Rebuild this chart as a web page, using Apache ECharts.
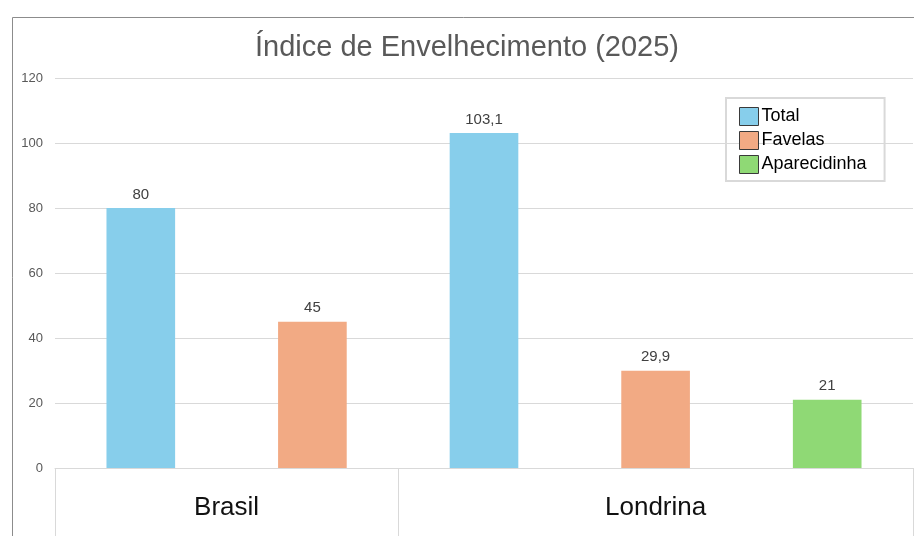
<!DOCTYPE html>
<html>
<head>
<meta charset="utf-8">
<script src="https://cdn.jsdelivr.net/npm/echarts@6/dist/echarts.min.js"></script>
<style>
  html, body { margin: 0; padding: 0; background: #fff; }
  #chart { width: 914px; height: 536px; }
</style>
</head>
<body>
<div id="chart"></div>
<script>
// dados
const groups = ['Brasil', 'Londrina'];
const seriesNames = ['Total', 'Favelas', 'Aparecidinha'];
const total = [80, 103.1];
const favelas = [45, 29.9];
const aparecidinha = [null, 21];
const yTicks = [0, 20, 40, 60, 80, 100, 120];

const colors = ['#87ceeb', '#f2aa84', '#8fd975'];
const values = [total, favelas, aparecidinha];

// cada barra tem seu proprio slot; os grupos ocupam tantos slots quantas barras tiverem
let slots = [];
let groupStart = [];
let groupSize = [];
groups.forEach((g, gi) => {
  groupStart.push(slots.length);
  values.forEach((arr, si) => {
    if (arr[gi] != null) slots.push({ group: gi, series: si, value: arr[gi] });
  });
  groupSize.push(slots.length - groupStart[gi]);
});

const seriesData = values.map((arr, si) =>
  slots.map(s => (s.series === si ? s.value : '-'))
);

// separadores e posicao dos nomes dos grupos no eixo de baixo
const dividers = [0];
const groupCenters = [];
groups.forEach((g, gi) => {
  groupCenters.push(groupStart[gi] + groupSize[gi] / 2);
  dividers.push(groupStart[gi] + groupSize[gi]);
});

const fontFamily = '"Liberation Sans", Arial, sans-serif';
const chart = echarts.init(document.getElementById('chart'));

const options = {
  animation: false,
  textStyle: { fontFamily: fontFamily },
  title: {
    text: 'Índice de Envelhecimento (2025)',
    left: 255,
    top: 33,
    padding: 0,
    textStyle: { fontSize: 29, fontWeight: 'normal', color: '#595959', fontFamily: fontFamily }
  },
  graphic: [{
    type: 'rect',
    shape: { x: 12.5, y: 17.5, width: 1000, height: 600 },
    style: { fill: 'none', stroke: '#8c8c8c', lineWidth: 1 },
    silent: true
  }],
  legend: {
    orient: 'vertical',
    left: 726,
    top: 98,
    padding: [9, 18, 7, 13],
    itemGap: 5,
    itemWidth: 19,
    itemHeight: 18,
    icon: 'rect',
    borderColor: '#d9d9d9',
    borderWidth: 2,
    itemStyle: { borderColor: '#3a3a3a', borderWidth: 1 },
    textStyle: { fontSize: 18, lineHeight: 18, color: '#000', fontFamily: fontFamily, padding: [0, 0, 0, -2] },
    data: seriesNames
  },
  grid: {
    left: 55,
    right: 1,
    top: 78,
    bottom: 68
  },
  xAxis: [
    {
      type: 'category',
      data: slots.map((s, i) => String(i)),
      axisLine: { show: true, lineStyle: { color: '#d9d9d9' } },
      axisTick: { show: false },
      axisLabel: { show: false }
    },
    {
      type: 'value',
      position: 'bottom',
      min: 0,
      max: slots.length,
      splitLine: { show: false },
      axisLine: { show: false },
      axisTick: {
        show: true,
        customValues: dividers,
        length: 70,
        lineStyle: { color: '#d9d9d9' }
      },
      axisLabel: {
        show: true,
        customValues: groupCenters,
        margin: 27,
        fontSize: 26,
        color: '#111',
        fontFamily: fontFamily,
        formatter: function (v) {
          const i = groupCenters.indexOf(v);
          return i >= 0 ? groups[i] : '';
        }
      }
    }
  ],
  yAxis: {
    type: 'value',
    min: yTicks[0],
    max: yTicks[yTicks.length - 1],
    interval: 20,
    axisLine: { show: false },
    axisTick: { show: false },
    splitLine: { lineStyle: { color: '#d9d9d9' } },
    axisLabel: { fontSize: 13, color: '#595959', margin: 12, fontFamily: fontFamily }
  },
  series: seriesNames.map((name, si) => ({
    name: name,
    type: 'bar',
    xAxisIndex: 0,
    data: seriesData[si],
    barWidth: '40%',
    barGap: '-100%',
    itemStyle: { color: colors[si] },
    label: {
      show: true,
      position: 'top',
      distance: 6,
      fontSize: 15,
      color: '#404040',
      fontFamily: fontFamily,
      formatter: p => String(p.value).replace('.', ',')
    }
  }))
};

chart.setOption(options);
</script>
</body>
</html>
